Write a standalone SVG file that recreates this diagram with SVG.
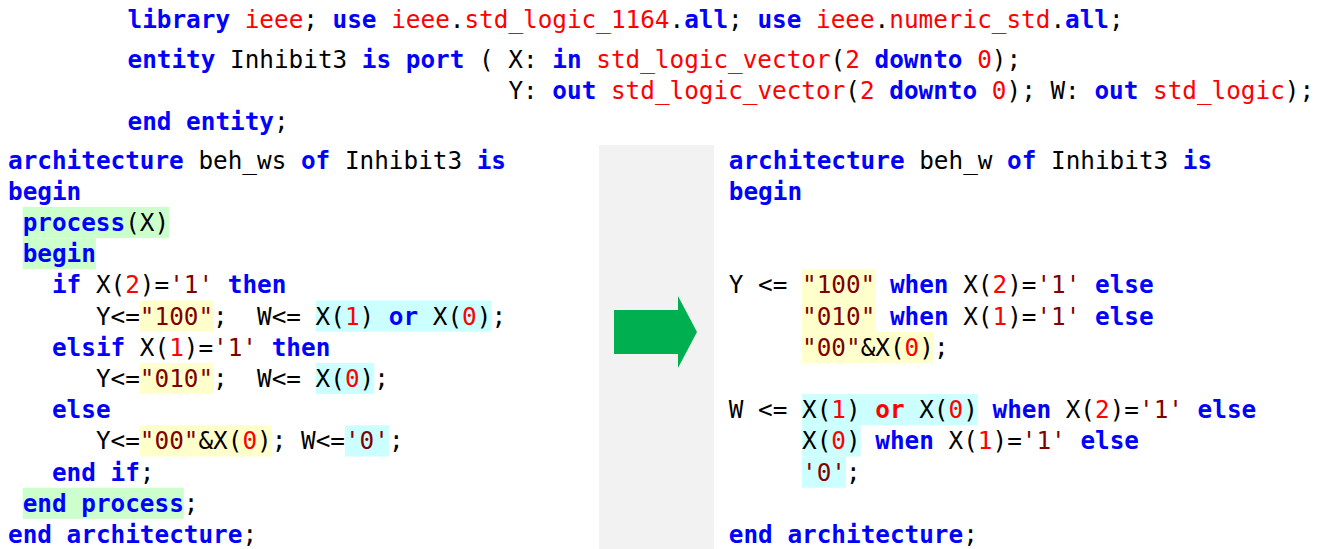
<svg xmlns="http://www.w3.org/2000/svg" width="1320" height="549" viewBox="0 0 1320 549">
<style>
text{font-family:"DejaVu Sans Mono","Liberation Mono",monospace;font-size:24.33px;fill:#000;white-space:pre}
.k{fill:#0000ff;font-weight:bold}
.kr{fill:#ff0000;font-weight:bold}
.r{fill:#ff0000}
.s{fill:#800000}
.hg{fill:#ccffcc}
.hy{fill:#ffffcc}
.hc{fill:#ccffff}
</style>
<rect width="1320" height="549" fill="#ffffff"/>
<g id="header">
<text x="127.5" y="28" xml:space="preserve"><tspan class="k">library</tspan> <tspan class="r">ieee</tspan>; <tspan class="k">use</tspan> <tspan class="r">ieee</tspan>.<tspan class="r">std_logic_1164</tspan>.<tspan class="k">all</tspan>; <tspan class="k">use</tspan> <tspan class="r">ieee</tspan>.<tspan class="r">numeric_std</tspan>.<tspan class="k">all</tspan>;</text>
<text x="127.5" y="68" xml:space="preserve"><tspan class="k">entity</tspan> Inhibit3 <tspan class="k">is</tspan> <tspan class="k">port</tspan> ( X: <tspan class="k">in</tspan> <tspan class="r">std_logic_vector</tspan>(<tspan class="r">2</tspan> <tspan class="k">downto</tspan> <tspan class="r">0</tspan>);</text>
<text x="508.4" y="99" xml:space="preserve">Y: <tspan class="k">out</tspan> <tspan class="r">std_logic_vector</tspan>(<tspan class="r">2</tspan> <tspan class="k">downto</tspan> <tspan class="r">0</tspan>); W: <tspan class="k">out</tspan> <tspan class="r">std_logic</tspan>);</text>
<text x="127.5" y="130" xml:space="preserve"><tspan class="k">end</tspan> <tspan class="k">entity</tspan>;</text>
</g>
<g id="panel">
<rect x="599" y="145" width="115" height="404" fill="#f2f2f2"/>
</g>
<g id="arch-process">
<rect class="hg" x="22.65" y="206.9" width="146.5" height="31.2"/>
<rect class="hg" x="22.65" y="238.1" width="73.25" height="31.2"/>
<rect class="hg" x="22.65" y="487.7" width="161.15" height="31.2"/>
<rect class="hy" x="139.85" y="300.5" width="73.25" height="31.2"/>
<rect class="hy" x="139.85" y="362.9" width="73.25" height="31.2"/>
<rect class="hy" x="139.85" y="425.3" width="131.85" height="31.2"/>
<rect class="hc" x="315.65" y="300.5" width="175.8" height="31.2"/>
<rect class="hc" x="315.65" y="362.9" width="58.6" height="31.2"/>
<rect class="hc" x="344.95" y="425.3" width="43.95" height="31.2"/>
<text x="8" y="168.5" xml:space="preserve"><tspan class="k">architecture</tspan> beh_ws <tspan class="k">of</tspan> Inhibit3 <tspan class="k">is</tspan></text>
<text x="8" y="199.7" xml:space="preserve"><tspan class="k">begin</tspan></text>
<text x="22.65" y="230.9" xml:space="preserve"><tspan class="k">process</tspan>(X)</text>
<text x="22.65" y="262.1" xml:space="preserve"><tspan class="k">begin</tspan></text>
<text x="51.95" y="293.3" xml:space="preserve"><tspan class="k">if</tspan> X(<tspan class="r">2</tspan>)=<tspan class="s">'1'</tspan> <tspan class="k">then</tspan></text>
<text x="95.9" y="324.5" xml:space="preserve">Y&lt;=<tspan class="s">"100"</tspan>;  W&lt;= X(<tspan class="r">1</tspan>) <tspan class="k">or</tspan> X(<tspan class="r">0</tspan>);</text>
<text x="51.95" y="355.7" xml:space="preserve"><tspan class="k">elsif</tspan> X(<tspan class="r">1</tspan>)=<tspan class="s">'1'</tspan> <tspan class="k">then</tspan></text>
<text x="95.9" y="386.9" xml:space="preserve">Y&lt;=<tspan class="s">"010"</tspan>;  W&lt;= X(<tspan class="r">0</tspan>);</text>
<text x="51.95" y="418.1" xml:space="preserve"><tspan class="k">else</tspan></text>
<text x="95.9" y="449.3" xml:space="preserve">Y&lt;=<tspan class="s">"00"</tspan>&amp;X(<tspan class="r">0</tspan>); W&lt;=<tspan class="s">'0'</tspan>;</text>
<text x="51.95" y="480.5" xml:space="preserve"><tspan class="k">end</tspan> <tspan class="k">if</tspan>;</text>
<text x="22.65" y="511.7" xml:space="preserve"><tspan class="k">end</tspan> <tspan class="k">process</tspan>;</text>
<text x="8" y="542.9" xml:space="preserve"><tspan class="k">end</tspan> <tspan class="k">architecture</tspan>;</text>
</g>
<g id="arch-when">
<rect class="hy" x="802.05" y="269.3" width="73.25" height="62.4"/>
<rect class="hy" x="802.05" y="331.7" width="131.85" height="31.2"/>
<rect class="hc" x="802.05" y="394.1" width="175.8" height="31.2"/>
<rect class="hc" x="802.05" y="425.3" width="58.6" height="31.2"/>
<rect class="hc" x="802.05" y="456.5" width="43.95" height="31.2"/>
<text x="728.8" y="168.5" xml:space="preserve"><tspan class="k">architecture</tspan> beh_w <tspan class="k">of</tspan> Inhibit3 <tspan class="k">is</tspan></text>
<text x="728.8" y="199.7" xml:space="preserve"><tspan class="k">begin</tspan></text>
<text x="728.8" y="293.3" xml:space="preserve">Y &lt;= <tspan class="s">"100"</tspan> <tspan class="k">when</tspan> X(<tspan class="r">2</tspan>)=<tspan class="s">'1'</tspan> <tspan class="k">else</tspan></text>
<text x="802.05" y="324.5" xml:space="preserve"><tspan class="s">"010"</tspan> <tspan class="k">when</tspan> X(<tspan class="r">1</tspan>)=<tspan class="s">'1'</tspan> <tspan class="k">else</tspan></text>
<text x="802.05" y="355.7" xml:space="preserve"><tspan class="s">"00"</tspan>&amp;X(<tspan class="r">0</tspan>);</text>
<text x="728.8" y="418.1" xml:space="preserve">W &lt;= X(<tspan class="r">1</tspan>) <tspan class="kr">or</tspan> X(<tspan class="r">0</tspan>) <tspan class="k">when</tspan> X(<tspan class="r">2</tspan>)=<tspan class="s">'1'</tspan> <tspan class="k">else</tspan></text>
<text x="802.05" y="449.3" xml:space="preserve">X(<tspan class="r">0</tspan>) <tspan class="k">when</tspan> X(<tspan class="r">1</tspan>)=<tspan class="s">'1'</tspan> <tspan class="k">else</tspan></text>
<text x="802.05" y="480.5" xml:space="preserve"><tspan class="s">'0'</tspan>;</text>
<text x="728.8" y="542.9" xml:space="preserve"><tspan class="k">end</tspan> <tspan class="k">architecture</tspan>;</text>
</g>
<g id="connectors">
<polygon points="614,310 678,310 678,296 697,332 678,368 678,354 614,354" fill="#00b050"/>
</g>
</svg>
